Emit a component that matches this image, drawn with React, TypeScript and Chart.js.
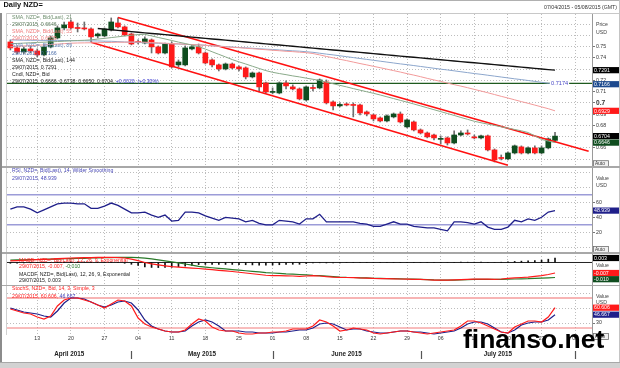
import React, { useEffect, useRef } from 'react';
import { Chart, registerables } from 'chart.js';

Chart.register(...registerables);

const FONT = '"Liberation Sans", Arial, Helvetica, sans-serif';
Chart.defaults.font.family = FONT;
Chart.defaults.color = '#333';

// ---------- categories ----------
const APRIL_DAYS = [7, 8, 9, 10, 13, 14, 15, 16, 17, 20, 21, 22, 23, 24, 27, 28, 29, 30];
const MAY_DAYS = [1, 4, 5, 6, 7, 8, 11, 12, 13, 14, 15, 18, 19, 20, 21, 22, 25, 26, 27, 28, 29];
const JUNE_DAYS = [1, 2, 3, 4, 5, 8, 9, 10, 11, 12, 15, 16, 17, 18, 19, 22, 23, 24, 25, 26, 29, 30];
const JULY_DAYS = [1, 2, 3, 6, 7, 8, 9, 10, 13, 14, 15, 16, 17, 20, 21, 22, 23, 24, 27, 28, 29, 30, 31];
const AUGUST_DAYS = [3, 4, 5];
const MONTH_DAYS = [APRIL_DAYS, MAY_DAYS, JUNE_DAYS, JULY_DAYS, AUGUST_DAYS];
const MONTH_NUMBERS = ['04', '05', '06', '07', '08'];
const MONTH_NAMES = ['April 2015', 'May 2015', 'June 2015', 'July 2015', ''];
const pad2 = (n: number) => String(n).padStart(2, '0');
const LABELS: string[] = MONTH_DAYS.flatMap((days, m) => days.map((d) => `${pad2(d)}/${MONTH_NUMBERS[m]}/2015`));
const TICK_DATES = [
  '13/04/2015', '20/04/2015', '27/04/2015', '04/05/2015', '11/05/2015', '18/05/2015', '25/05/2015',
  '01/06/2015', '08/06/2015', '15/06/2015', '22/06/2015', '29/06/2015', '06/07/2015', '13/07/2015',
  '20/07/2015', '27/07/2015', '03/08/2015',
];

// ---------- price (candles) ----------
const OPEN = [
  0.7542, 0.7489, 0.7453, 0.7480, 0.7462, 0.7427, 0.7498, 0.7578, 0.7667, 0.7720,
  0.7667, 0.7667, 0.7658, 0.7596, 0.7596, 0.7649, 0.7711, 0.7676, 0.7613, 0.7542,
  0.7533, 0.7560, 0.7498, 0.7444, 0.7524, 0.7338, 0.7338, 0.7480, 0.7498, 0.7444,
  0.7382, 0.7338, 0.7302, 0.7346, 0.7320, 0.7311, 0.7231, 0.7266, 0.7177, 0.7093,
  0.7088, 0.7177, 0.7142, 0.7124, 0.7026, 0.7133, 0.7133, 0.7186, 0.7008, 0.6973,
  0.6990, 0.6981, 0.6981, 0.6919, 0.6893, 0.6866, 0.6839, 0.6875, 0.6901, 0.6786,
  0.6830, 0.6759, 0.6732, 0.6714, 0.6675, 0.6688, 0.6643, 0.6714, 0.6732, 0.6697,
  0.6688, 0.6706, 0.6581, 0.6510, 0.6501, 0.6554, 0.6608, 0.6554, 0.6599, 0.6554,
  0.6599, 0.6666,
];
const CLOSE = [
  0.7489, 0.7453, 0.7480, 0.7462, 0.7427, 0.7498, 0.7578, 0.7667, 0.7694, 0.7667,
  0.7662, 0.7658, 0.7587, 0.7613, 0.7658, 0.7720, 0.7676, 0.7604, 0.7524, 0.7538,
  0.7569, 0.7498, 0.7444, 0.7524, 0.7320, 0.7364, 0.7489, 0.7498, 0.7444, 0.7355,
  0.7338, 0.7302, 0.7346, 0.7311, 0.7302, 0.7231, 0.7266, 0.7142, 0.7097, 0.7097,
  0.7177, 0.7151, 0.7124, 0.7035, 0.7142, 0.7128, 0.7204, 0.7000, 0.6973, 0.6986,
  0.6981, 0.6977, 0.6910, 0.6901, 0.6857, 0.6839, 0.6884, 0.6901, 0.6830, 0.6848,
  0.6759, 0.6732, 0.6697, 0.6688, 0.6679, 0.6643, 0.6714, 0.6732, 0.6723, 0.6688,
  0.6706, 0.6581, 0.6492, 0.6505, 0.6554, 0.6617, 0.6554, 0.6599, 0.6554, 0.6599,
  0.6679, 0.6704,
];
const HIGH = [
  0.7560, 0.7507, 0.7498, 0.7507, 0.7480, 0.7516, 0.7596, 0.7685, 0.7720, 0.7738,
  0.7711, 0.7720, 0.7667, 0.7622, 0.7667, 0.7756, 0.7756, 0.7685, 0.7622, 0.7560,
  0.7587, 0.7569, 0.7507, 0.7533, 0.7542, 0.7382, 0.7507, 0.7516, 0.7524, 0.7453,
  0.7391, 0.7346, 0.7355, 0.7355, 0.7329, 0.7320, 0.7275, 0.7275, 0.7186, 0.7133,
  0.7186, 0.7195, 0.7160, 0.7133, 0.7151, 0.7160, 0.7213, 0.7204, 0.7017, 0.7000,
  0.7000, 0.7000, 0.6990, 0.6928, 0.6901, 0.6875, 0.6893, 0.6910, 0.6919, 0.6857,
  0.6839, 0.6768, 0.6741, 0.6723, 0.6706, 0.6697, 0.6750, 0.6750, 0.6759, 0.6714,
  0.6714, 0.6714, 0.6590, 0.6536, 0.6563, 0.6625, 0.6617, 0.6608, 0.6617, 0.6617,
  0.6688, 0.6738,
];
const LOW = [
  0.7471, 0.7435, 0.7435, 0.7444, 0.7409, 0.7418, 0.7489, 0.7569, 0.7649, 0.7658,
  0.7631, 0.7649, 0.7542, 0.7578, 0.7587, 0.7640, 0.7667, 0.7596, 0.7516, 0.7524,
  0.7524, 0.7444, 0.7435, 0.7435, 0.7311, 0.7320, 0.7329, 0.7471, 0.7435, 0.7346,
  0.7320, 0.7284, 0.7293, 0.7302, 0.7284, 0.7213, 0.7222, 0.7097, 0.7088, 0.7080,
  0.7080, 0.7124, 0.7115, 0.7026, 0.7017, 0.7106, 0.7124, 0.6990, 0.6937, 0.6964,
  0.6973, 0.6875, 0.6893, 0.6884, 0.6839, 0.6830, 0.6830, 0.6866, 0.6821, 0.6777,
  0.6750, 0.6723, 0.6688, 0.6670, 0.6634, 0.6625, 0.6634, 0.6706, 0.6714, 0.6679,
  0.6679, 0.6572, 0.6474, 0.6492, 0.6492, 0.6545, 0.6545, 0.6545, 0.6545, 0.6545,
  0.6590, 0.6650,
];

// ---------- moving averages ----------
const SMA21 = [
  0.7526, 0.7529, 0.7532, 0.7535, 0.7538, 0.7540, 0.7543, 0.7546, 0.7549, 0.7552,
  0.7555, 0.7557, 0.7561, 0.7568, 0.7574, 0.7581, 0.7588, 0.7595, 0.7602, 0.7608,
  0.7610, 0.7596, 0.7582, 0.7569, 0.7555, 0.7541, 0.7528, 0.7514, 0.7500, 0.7479,
  0.7455, 0.7432, 0.7409, 0.7385, 0.7365, 0.7346, 0.7326, 0.7306, 0.7287, 0.7272,
  0.7261, 0.7251, 0.7240, 0.7231, 0.7220, 0.7210, 0.7199, 0.7184, 0.7170, 0.7156,
  0.7142, 0.7127, 0.7113, 0.7099, 0.7085, 0.7070, 0.7054, 0.7038, 0.7022, 0.7006,
  0.6990, 0.6973, 0.6956, 0.6939, 0.6922, 0.6905, 0.6888, 0.6870, 0.6853, 0.6836,
  0.6823, 0.6811, 0.6799, 0.6787, 0.6775, 0.6763, 0.6751, 0.6736, 0.6706, 0.6674,
  0.6660, 0.6646,
];
const SMA55 = [
  0.7499, 0.7503, 0.7507, 0.7509, 0.7513, 0.7516, 0.7520, 0.7523, 0.7527, 0.7531,
  0.7533, 0.7534, 0.7535, 0.7536, 0.7537, 0.7538, 0.7540, 0.7540, 0.7541, 0.7542,
  0.7540, 0.7537, 0.7534, 0.7531, 0.7528, 0.7525, 0.7522, 0.7519, 0.7516, 0.7512,
  0.7507, 0.7503, 0.7499, 0.7494, 0.7491, 0.7486, 0.7482, 0.7477, 0.7473, 0.7468,
  0.7464, 0.7459, 0.7456, 0.7451, 0.7447, 0.7439, 0.7427, 0.7413, 0.7401, 0.7388,
  0.7376, 0.7363, 0.7350, 0.7338, 0.7325, 0.7313, 0.7300, 0.7287, 0.7274, 0.7260,
  0.7247, 0.7233, 0.7218, 0.7204, 0.7191, 0.7176, 0.7162, 0.7149, 0.7135, 0.7120,
  0.7105, 0.7090, 0.7074, 0.7058, 0.7043, 0.7027, 0.7011, 0.6996, 0.6980, 0.6964,
  0.6948, 0.6929,
];
const SMA89 = [
  0.7560, 0.7559, 0.7558, 0.7557, 0.7557, 0.7556, 0.7556, 0.7556, 0.7555, 0.7554,
  0.7553, 0.7553, 0.7552, 0.7551, 0.7549, 0.7548, 0.7545, 0.7542, 0.7540, 0.7538,
  0.7535, 0.7532, 0.7531, 0.7528, 0.7525, 0.7524, 0.7521, 0.7518, 0.7516, 0.7513,
  0.7508, 0.7505, 0.7501, 0.7497, 0.7493, 0.7490, 0.7486, 0.7482, 0.7478, 0.7475,
  0.7471, 0.7467, 0.7463, 0.7460, 0.7455, 0.7450, 0.7442, 0.7434, 0.7427, 0.7419,
  0.7411, 0.7403, 0.7395, 0.7387, 0.7379, 0.7371, 0.7363, 0.7355, 0.7347, 0.7340,
  0.7332, 0.7324, 0.7316, 0.7308, 0.7300, 0.7293, 0.7285, 0.7277, 0.7269, 0.7261,
  0.7254, 0.7246, 0.7238, 0.7230, 0.7222, 0.7214, 0.7207, 0.7199, 0.7191, 0.7183,
  0.7175, 0.7166,
];
const SMA144 = [
  null, null, null, null, null, null, null, null, null, null,
  null, null, null, 0.7662, 0.7656, 0.7651, 0.7645, 0.7640, 0.7634, 0.7629,
  0.7623, 0.7618, 0.7613, 0.7607, 0.7602, 0.7596, 0.7591, 0.7585, 0.7580, 0.7574,
  0.7569, 0.7564, 0.7558, 0.7553, 0.7547, 0.7542, 0.7536, 0.7531, 0.7525, 0.7520,
  0.7515, 0.7509, 0.7504, 0.7498, 0.7493, 0.7487, 0.7482, 0.7476, 0.7471, 0.7466,
  0.7460, 0.7455, 0.7449, 0.7444, 0.7438, 0.7433, 0.7427, 0.7422, 0.7416, 0.7411,
  0.7406, 0.7400, 0.7395, 0.7389, 0.7384, 0.7378, 0.7373, 0.7367, 0.7362, 0.7357,
  0.7351, 0.7346, 0.7340, 0.7335, 0.7329, 0.7324, 0.7318, 0.7313, 0.7307, 0.7302,
  0.7296, 0.7291,
];
const CHANNEL_UPPER = [{ x: '29/04/2015', y: 0.776 }, { x: '05/08/2015', y: 0.6569 }];
const CHANNEL_LOWER = [{ x: '23/04/2015', y: 0.754 }, { x: '20/07/2015', y: 0.6445 }];
const SUPPORT_LEVEL = 0.7174;
const PRICE_TICKS = [0.65, 0.66, 0.67, 0.68, 0.69, 0.7, 0.71, 0.72, 0.73, 0.74, 0.75, 0.76, 0.77];
const PRICE_LABELED = [0.66, 0.67, 0.68, 0.69, 0.7, 0.71, 0.72, 0.73, 0.74, 0.75];

// ---------- RSI ----------
const RSI = [
  51, 54, 54, 51, 46, 50, 54, 58, 59, 59,
  58, 58, 52, 52, 55, 59, 56, 51, 46, 46,
  47, 43, 40, 43, 35, 36, 47, 47, 46, 42,
  39, 36, 40, 39, 38, 34, 36, 32, 30, 30,
  36, 35, 34, 31, 38, 38, 44, 34, 34, 34,
  34, 34, 32, 31, 28, 28, 31, 34, 31, 31,
  28, 27, 26, 26, 24, 22, 34, 34, 33, 31,
  34, 27, 24, 24, 27, 36, 34, 38, 36, 40,
  47, 48.939,
];
const RSI_LEVELS = [70, 30];
const RSI_TICKS = [0, 20, 40, 60, 80, 100];
const RSI_LABELED = [20, 40, 60];

// ---------- MACD ----------
const MACD = [
  0.0011, 0.0013, 0.0015, 0.0017, 0.0019, 0.0021, 0.0023, 0.0026, 0.0028, 0.0030,
  0.0031, 0.0032, 0.0033, 0.0034, 0.0034, 0.0035, 0.0033, 0.0030, 0.0022, 0.0012,
  0.0000, -0.0009, -0.0016, -0.0022, -0.0028, -0.0031, -0.0034, -0.0037, -0.0040, -0.0044,
  -0.0048, -0.0052, -0.0056, -0.0060, -0.0065, -0.0070, -0.0075, -0.0080, -0.0085, -0.0087,
  -0.0088, -0.0089, -0.0090, -0.0092, -0.0090, -0.0088, -0.0090, -0.0094, -0.0097, -0.0099,
  -0.0100, -0.0101, -0.0103, -0.0104, -0.0106, -0.0107, -0.0108, -0.0109, -0.0110, -0.0111,
  -0.0112, -0.0113, -0.0115, -0.0117, -0.0118, -0.0118, -0.0116, -0.0114, -0.0112, -0.0111,
  -0.0110, -0.0111, -0.0112, -0.0110, -0.0106, -0.0103, -0.0100, -0.0097, -0.0093, -0.0088,
  -0.0080, -0.0070,
];
const MACD_SIGNAL = [
  0.0016, 0.0017, 0.0018, 0.0019, 0.0020, 0.0021, 0.0022, 0.0023, 0.0025, 0.0026,
  0.0027, 0.0028, 0.0030, 0.0031, 0.0032, 0.0033, 0.0034, 0.0035, 0.0034, 0.0032,
  0.0029, 0.0024, 0.0018, 0.0011, 0.0004, -0.0003, -0.0010, -0.0018, -0.0026, -0.0031,
  -0.0035, -0.0039, -0.0043, -0.0047, -0.0051, -0.0055, -0.0059, -0.0063, -0.0067, -0.0070,
  -0.0073, -0.0076, -0.0078, -0.0080, -0.0083, -0.0086, -0.0088, -0.0091, -0.0094, -0.0097,
  -0.0099, -0.0100, -0.0102, -0.0103, -0.0105, -0.0106, -0.0107, -0.0108, -0.0109, -0.0110,
  -0.0111, -0.0112, -0.0114, -0.0116, -0.0117, -0.0118, -0.0117, -0.0116, -0.0114, -0.0113,
  -0.0112, -0.0112, -0.0112, -0.0112, -0.0111, -0.0110, -0.0109, -0.0108, -0.0106, -0.0104,
  -0.0102, -0.0100,
];
const MACD_HIST = [
  -0.0005, -0.0004, -0.0003, -0.0002, -0.0001, 0.0, 0.0001, 0.0003, 0.0003, 0.0004,
  0.0004, 0.0004, 0.0003, 0.0003, 0.0002, 0.0002, -0.0001, -0.0005, -0.0012, -0.0020,
  -0.0029, -0.0033, -0.0034, -0.0033, -0.0032, -0.0028, -0.0024, -0.0019, -0.0014, -0.0013,
  -0.0013, -0.0013, -0.0013, -0.0013, -0.0014, -0.0015, -0.0016, -0.0017, -0.0018, -0.0017,
  -0.0015, -0.0013, -0.0012, -0.0012, -0.0007, -0.0002, -0.0002, -0.0003, -0.0003, -0.0002,
  -0.0001, -0.0001, -0.0001, -0.0001, -0.0001, -0.0001, -0.0001, -0.0001, -0.0001, -0.0001,
  -0.0001, -0.0001, -0.0001, -0.0001, -0.0001, 0.0, 0.0001, 0.0002, 0.0002, 0.0002,
  0.0002, 0.0001, 0.0, 0.0002, 0.0005, 0.0007, 0.0009, 0.0011, 0.0013, 0.0016,
  0.0022, 0.0030,
];

// ---------- Stochastic ----------
const STOCH_K = [
  58, 54, 50, 48, 42, 38, 44, 64, 76, 80,
  80, 76, 72, 66, 60, 68, 76, 74, 64, 40,
  28, 22, 18, 14, 12, 12, 16, 28, 38, 34,
  22, 16, 14, 14, 10, 8, 8, 10, 10, 12,
  12, 14, 18, 18, 18, 24, 36, 32, 24, 14,
  16, 20, 18, 16, 10, 8, 10, 12, 14, 14,
  12, 10, 8, 10, 12, 14, 16, 24, 34, 34,
  30, 24, 18, 12, 10, 22, 28, 34, 34, 32,
  42, 60.606,
];
const STOCH_D = [
  60, 56, 52, 50, 48, 44, 42, 54, 70, 80,
  80, 78, 72, 66, 62, 66, 72, 74, 70, 56,
  36, 24, 18, 14, 12, 12, 14, 24, 32, 36,
  32, 24, 14, 14, 14, 12, 12, 10, 10, 10,
  12, 12, 14, 16, 16, 20, 28, 30, 28, 22,
  16, 18, 18, 14, 12, 10, 10, 12, 14, 14,
  12, 12, 10, 8, 10, 12, 14, 20, 28, 32,
  32, 28, 20, 12, 10, 16, 26, 30, 32, 32,
  36, 46.667,
];
const STOCH_LEVELS = [80, 20];
const STOCH_TICKS = [30, 60, 90];
const STOCH_LABELED = [30];

// ---------- styles ----------
const GRID = '#bdbdbd';
const RED = '#ff1a1a';
const CANDLE_UP = '#0f4d1f';
const WICK = '#6e6e6e';
const NAVY = '#1f1f8a';
const AXIS_W = 28;

type Part = [string, string];

function drawParts(ctx: CanvasRenderingContext2D, x: number, y: number, parts: Part[], size = 5.2, weight = 'normal', align: CanvasTextAlign = 'left') {
  ctx.save();
  ctx.font = `${weight} ${size}px ${FONT}`;
  ctx.textBaseline = 'middle';
  ctx.textAlign = 'left';
  let total = 0;
  for (const [t] of parts) total += ctx.measureText(t).width;
  let cx = align === 'right' ? x - total : align === 'center' ? x - total / 2 : x;
  for (const [t, c] of parts) {
    ctx.fillStyle = c;
    ctx.fillText(t, cx, y);
    cx += ctx.measureText(t).width;
  }
  ctx.restore();
}

type Box = { value: number; text: string; bg: string; fg?: string };
function drawBoxes(ctx: CanvasRenderingContext2D, scale: any, boxes: Box[]) {
  const H = 6.2;
  const items = boxes.map((b) => ({ ...b, y: scale.getPixelForValue(b.value) })).sort((a, b) => a.y - b.y);
  for (let i = 1; i < items.length; i++) if (items[i].y - items[i - 1].y < H) items[i].y = items[i - 1].y + H;
  for (const it of items) {
    ctx.save();
    ctx.fillStyle = it.bg;
    ctx.fillRect(593, it.y - H / 2, 26, H);
    ctx.restore();
    drawParts(ctx, 594, it.y + 0.3, [[it.text, it.fg || '#ffffff']], 5.2);
  }
}

function drawAuto(ctx: CanvasRenderingContext2D, y: number) {
  ctx.save();
  ctx.fillStyle = '#f0f0f0';
  ctx.fillRect(593.5, y - 3, 15, 6);
  ctx.strokeStyle = '#707070';
  ctx.lineWidth = 0.8;
  ctx.strokeRect(593.5, y - 3, 15, 6);
  ctx.restore();
  drawParts(ctx, 595, y + 0.2, [['Auto', '#333']], 4.8);
}

function hLine(chart: any, value: number, color: string, width: number) {
  const ctx = chart.ctx as CanvasRenderingContext2D;
  const y = chart.scales.y.getPixelForValue(value);
  const { left, right } = chart.chartArea;
  ctx.save();
  ctx.strokeStyle = color;
  ctx.lineWidth = width;
  ctx.beginPath();
  ctx.moveTo(left, y);
  ctx.lineTo(right, y);
  ctx.stroke();
  ctx.restore();
}

function xScale(axisHeight: number, showLabels: boolean) {
  return {
    type: 'category',
    offset: true,
    afterBuildTicks: (s: any) => {
      s.ticks = s.ticks.filter((t: any) => TICK_DATES.includes(LABELS[t.value]));
    },
    afterFit: (s: any) => {
      s.height = axisHeight;
      s.paddingLeft = 0;
      s.paddingRight = 0;
    },
    grid: { offset: false, color: GRID, lineWidth: 1, drawTicks: false },
    border: { display: false, dash: [1, 2] },
    ticks: {
      display: showLabels,
      autoSkip: false,
      maxRotation: 0,
      padding: 0.5,
      color: '#333',
      font: { size: 5.2 },
      callback: (v: any) => LABELS[v].slice(0, 2),
    },
  };
}

function yScale(min: number, max: number, tickValues: number[] | null, labeled: number[], fmt: (v: number) => string, font?: any) {
  const shown = (v: number) => labeled.some((l) => Math.abs(l - v) < 1e-9);
  return {
    position: 'right',
    min,
    max,
    afterBuildTicks: (s: any) => {
      if (tickValues) s.ticks = tickValues.map((v) => ({ value: v }));
    },
    afterFit: (s: any) => {
      s.width = AXIS_W;
      s.paddingTop = 0;
      s.paddingBottom = 0;
    },
    grid: {
      display: !!tickValues,
      color: GRID,
      lineWidth: 1,
      drawTicks: true,
      tickLength: 3,
      tickWidth: 1,
      tickBorderDash: [],
      tickColor: (c: any) => (c.tick && shown(c.tick.value) ? '#777' : 'rgba(0,0,0,0)'),
    },
    border: { display: true, color: '#9a9a9a', width: 1, dash: [1, 2] },
    ticks: {
      display: !!tickValues,
      padding: 1,
      color: '#333',
      font: font || { size: 5.2 },
      callback: (v: any) => (shown(v) ? fmt(v) : ''),
    },
  };
}

const baseOptions = (padTop: number) => ({
  animation: false,
  responsive: false,
  events: [],
  layout: { padding: { left: 7, top: padTop, right: 0, bottom: 0 } },
  plugins: { legend: { display: false }, tooltip: { enabled: false } },
});

// ---------- PRICE PANEL ----------
const PRICE_TOP = 0;
const makePrice = () => ({
  type: 'bar',
  data: {
    labels: LABELS,
    datasets: [
      { type: 'line', data: SMA21, borderColor: '#8aaa8a', borderWidth: 1, pointRadius: 0, order: 0 },
      { type: 'line', data: SMA55, borderColor: '#f29a9a', borderWidth: 1, pointRadius: 0, order: 0 },
      { type: 'line', data: SMA89, borderColor: '#8ca6cc', borderWidth: 1, pointRadius: 0, order: 0 },
      { type: 'line', data: SMA144, borderColor: '#111111', borderWidth: 1.4, pointRadius: 0, order: 0 },
      { type: 'line', data: CHANNEL_UPPER, borderColor: '#ff1010', borderWidth: 1.6, pointRadius: 0, order: 0 },
      { type: 'line', data: CHANNEL_LOWER, borderColor: '#ff1010', borderWidth: 1.6, pointRadius: 0, order: 0 },
      {
        type: 'bar',
        data: OPEN.map((o, i) => [o, CLOSE[i]]),
        backgroundColor: OPEN.map((o, i) => (CLOSE[i] >= o ? CANDLE_UP : RED)),
        barThickness: 5,
        grouped: false,
        minBarLength: 1,
        order: 1,
      },
      {
        type: 'bar',
        data: LOW.map((l, i) => [l, HIGH[i]]),
        backgroundColor: WICK,
        barThickness: 1,
        grouped: false,
        order: 2,
      },
    ],
  },
  options: {
    ...baseOptions(14),
    scales: {
      x: xScale(0, false),
      y: yScale(0.6429, 0.7791, PRICE_TICKS, PRICE_LABELED, (v) => String(Number(v.toFixed(2))), (c: any) =>
        c.tick && Math.abs(c.tick.value - 0.7) < 1e-9 ? { size: 6.6, weight: 'bold' } : { size: 5.2 }
      ),
    },
  },
  plugins: [
    {
      id: 'priceOverlay',
      beforeDatasetsDraw(chart: any) {
        hLine(chart, SUPPORT_LEVEL, '#1e5a1e', 1.2);
      },
      afterDatasetsDraw(chart: any) {
        const ctx = chart.ctx as CanvasRenderingContext2D;
        const y = chart.scales.y.getPixelForValue(SUPPORT_LEVEL);
        const x = chart.scales.x.getPixelForValue(LABELS.length - 6) - 4;
        ctx.save();
        ctx.font = `5.6px ${FONT}`;
        const w = ctx.measureText('0.7174').width;
        ctx.fillStyle = '#ffffff';
        ctx.fillRect(x - 1, y - 3.2, w + 2, 6.4);
        ctx.restore();
        drawParts(ctx, x, y, [[String(SUPPORT_LEVEL), '#4646c4']], 5.6);
      },
      afterDraw(chart: any) {
        const ctx = chart.ctx as CanvasRenderingContext2D;
        drawBoxes(ctx, chart.scales.y, [
          { value: 0.7291, text: '0.7291', bg: '#000000' },
          { value: 0.7166, text: '0.7166', bg: '#1d4a8e' },
          { value: 0.6929, text: '0.6929', bg: '#ff1a1a' },
          { value: 0.6704, text: '0.6704', bg: '#000000' },
          { value: 0.6646, text: '0.6646', bg: '#0f4d1f' },
        ]);
        ctx.save();
        ctx.translate(0, -PRICE_TOP);
        drawParts(ctx, 3.5, 5, [['Daily NZD=', '#111']], 7.4, 'bold');
        drawParts(ctx, 617, 7.5, [['07/04/2015 - 05/08/2015 (GMT)', '#333']], 5.2, 'normal', 'right');
        const lx = 12;
        drawParts(ctx, lx, 17.5, [['SMA, NZD=, Bid(Last), 21', '#6f8f6f']]);
        drawParts(ctx, lx, 25, [['29/07/2015, 0.6646', '#5b7b5b']]);
        drawParts(ctx, lx, 32, [['SMA, NZD=, Bid(Last), 55', '#f07a7a']]);
        drawParts(ctx, lx, 39, [['29/07/2015, 0.6929', '#f07a7a']]);
        drawParts(ctx, lx, 46, [['SMA, NZD=, Bid(Last), 89', '#6e8fc0']]);
        drawParts(ctx, lx, 53.5, [['29/07/2015, 0.7166', '#4f70aa']]);
        drawParts(ctx, lx, 61, [['SMA, NZD=, Bid(Last), 144', '#222']]);
        drawParts(ctx, lx, 68, [['29/07/2015, 0.7291', '#222']]);
        drawParts(ctx, lx, 75, [['Cndl, NZD=, Bid', '#222']]);
        drawParts(ctx, lx, 82, [['29/07/2015, 0.6666, 0.6738, 0.6650, 0.6704, ', '#222'], ['+0.0020, (+0.30%)', '#3b3bd0']]);
        drawParts(ctx, 596, 25, [['Price', '#444']]);
        drawParts(ctx, 596, 32.5, [['USD', '#444']]);
        drawAuto(ctx, 163.7);
        ctx.restore();
      },
    },
  ],
});

// ---------- RSI PANEL ----------
const RSI_TOP = 167;
const makeRsi = () => ({
  type: 'line',
  data: {
    labels: LABELS,
    datasets: [{ data: RSI, borderColor: NAVY, borderWidth: 1.3, pointRadius: 0 }],
  },
  options: {
    ...baseOptions(0),
    scales: {
      x: xScale(0, false),
      y: yScale(-7.6, 107.1, RSI_TICKS, RSI_LABELED, (v) => String(v)),
    },
  },
  plugins: [
    {
      id: 'rsiOverlay',
      beforeDatasetsDraw(chart: any) {
        RSI_LEVELS.forEach((lv) => hLine(chart, lv, '#9c9cd8', 1.6));
      },
      afterDraw(chart: any) {
        const ctx = chart.ctx as CanvasRenderingContext2D;
        drawBoxes(ctx, chart.scales.y, [{ value: RSI[RSI.length - 1], text: '48.939', bg: NAVY }]);
        ctx.save();
        ctx.translate(0, -RSI_TOP);
        drawParts(ctx, 12, 171, [['RSI, NZD=, Bid(Last), 14, Wilder Smoothing', '#4a4ab8']]);
        drawParts(ctx, 12, 178.5, [['29/07/2015, 48.939', '#4a4ab8']]);
        drawParts(ctx, 596, 179, [['Value', '#444']]);
        drawParts(ctx, 596, 186, [['USD', '#444']]);
        drawAuto(ctx, 249.5);
        ctx.restore();
      },
    },
  ],
});

// ---------- MACD PANEL ----------
const MACD_TOP = 253;
const makeMacd = () => ({
  type: 'bar',
  data: {
    labels: LABELS,
    datasets: [
      { type: 'line', data: MACD, borderColor: '#ff1a1a', borderWidth: 1.2, pointRadius: 0, order: 0 },
      { type: 'line', data: MACD_SIGNAL, borderColor: '#2a7a2a', borderWidth: 1.2, pointRadius: 0, order: 0 },
      { type: 'bar', data: MACD_HIST, backgroundColor: '#111', barThickness: 1, grouped: false, order: 1 },
    ],
  },
  options: {
    ...baseOptions(0),
    scales: {
      x: xScale(0, false),
      y: yScale(-0.015, 0.00633, null, [], (v) => String(v)),
    },
  },
  plugins: [
    {
      id: 'macdOverlay',
      beforeDatasetsDraw(chart: any) {
        hLine(chart, 0, '#222', 1);
      },
      afterDraw(chart: any) {
        const ctx = chart.ctx as CanvasRenderingContext2D;
        drawBoxes(ctx, chart.scales.y, [
          { value: 0.003, text: '0.003', bg: '#000000' },
          { value: -0.007, text: '-0.007', bg: '#ff1a1a' },
          { value: -0.01, text: '-0.010', bg: '#0f4d1f' },
        ]);
        ctx.save();
        ctx.translate(0, -MACD_TOP);
        drawParts(ctx, 19, 260.5, [['MACD, NZD=, Bid(Last), 12, 26, 9, Exponential', '#ff2020']]);
        drawParts(ctx, 19, 267, [['29/07/2015, -0.007, ', '#ff2020'], ['-0.010', '#2a7a2a']]);
        drawParts(ctx, 19, 274.5, [['MACDF, NZD=, Bid(Last), 12, 26, 9, Exponential', '#222']]);
        drawParts(ctx, 19, 281, [['29/07/2015, 0.003', '#222']]);
        drawParts(ctx, 596, 265.5, [['Value', '#444']]);
        ctx.restore();
      },
    },
  ],
});

// ---------- STOCHASTIC PANEL ----------
const STOCH_TOP = 285;
const STOCH_H = 83;
const makeStoch = () => ({
  type: 'line',
  data: {
    labels: LABELS,
    datasets: [
      { data: STOCH_K, borderColor: '#ff1a1a', borderWidth: 1.2, pointRadius: 0 },
      { data: STOCH_D, borderColor: NAVY, borderWidth: 1.2, pointRadius: 0 },
    ],
  },
  options: {
    ...baseOptions(0),
    scales: {
      x: xScale(STOCH_H - 50, true),
      y: yScale(6, 106, STOCH_TICKS, STOCH_LABELED, (v) => String(v)),
    },
  },
  plugins: [
    {
      id: 'stochOverlay',
      beforeDatasetsDraw(chart: any) {
        hLine(chart, STOCH_LEVELS[0], '#f7b4b4', 2);
        hLine(chart, STOCH_LEVELS[1], '#f27a7a', 1);
      },
      afterDraw(chart: any) {
        const ctx = chart.ctx as CanvasRenderingContext2D;
        drawBoxes(ctx, chart.scales.y, [
          { value: 60.606, text: '60.606', bg: '#ff1a1a' },
          { value: 46.667, text: '46.667', bg: NAVY },
        ]);
        const xs = chart.scales.x;
        const { left } = chart.chartArea;
        let idx = 0;
        const starts: number[] = [];
        MONTH_DAYS.forEach((days) => {
          starts.push(idx);
          idx += days.length;
        });
        ctx.save();
        ctx.translate(0, -STOCH_TOP);
        MONTH_NAMES.forEach((name, m) => {
          const x0 = m === 0 ? left : xs.getPixelForValue(starts[m]);
          if (m > 0) {
            ctx.save();
            ctx.strokeStyle = '#555';
            ctx.lineWidth = 1.2;
            ctx.beginPath();
            ctx.moveTo(Math.round(x0) + 0.5, 351);
            ctx.lineTo(Math.round(x0) + 0.5, 359);
            ctx.stroke();
            ctx.restore();
          }
          if (name && m + 1 < starts.length) {
            const x1 = xs.getPixelForValue(starts[m + 1]);
            drawParts(ctx, (x0 + x1) / 2, 354, [[name, '#222']], 6.3, 'bold', 'center');
          }
        });
        drawParts(ctx, 12, 289, [['StochS, NZD=, Bid, 14, 3, Simple, 3', '#ff2020']]);
        drawParts(ctx, 12, 296.5, [['29/07/2015, 60.606, ', '#ff2020'], ['46.667', '#3a3ab8']]);
        drawParts(ctx, 596, 297, [['Value', '#444']]);
        drawParts(ctx, 596, 302.5, [['USD', '#444']]);
        drawAuto(ctx, 336.5);
        drawParts(ctx, 463, 340.5, [['finanso.net', '#000']], 26.5, 'bold');
        ctx.restore();
      },
    },
  ],
});

function ChartCanvas({ top, height, make }: { top: number; height: number; make: () => any }) {
  const ref = useRef<HTMLCanvasElement | null>(null);
  useEffect(() => {
    if (!ref.current) return;
    const chart = new Chart(ref.current, make() as any);
    return () => chart.destroy();
  }, [make]);
  return (
    <canvas
      ref={ref}
      width={620}
      height={height}
      style={{ position: 'absolute', left: 0, top, width: 620, height, display: 'block' }}
    />
  );
}

const line = (style: React.CSSProperties) => (
  <div style={{ position: 'absolute', pointerEvents: 'none', ...style }} />
);

export default function App() {
  return (
    <div style={{ position: 'fixed', left: 0, top: 0, width: 620, height: 368, background: '#fff', overflow: 'hidden' }}>
      <ChartCanvas top={PRICE_TOP} height={167} make={makePrice} />
      <ChartCanvas top={RSI_TOP} height={86} make={makeRsi} />
      <ChartCanvas top={MACD_TOP} height={32} make={makeMacd} />
      <ChartCanvas top={STOCH_TOP} height={STOCH_H} make={makeStoch} />
      {line({ left: 0, top: 0, width: 620, height: 1, background: '#b0b0b0' })}
      {line({ left: 6, top: 13, width: 614, height: 1, background: '#c8c8c8' })}
      {line({ left: 6, top: 13, width: 1, height: 322, background: '#d0d0d0' })}
      {line({ left: 0, top: 13, width: 2, height: 349, background: '#8c8c8c' })}
      {line({ left: 619, top: 0, width: 1, height: 368, background: '#c4c4c4' })}
      {line({ left: 2, top: 166, width: 618, height: 1.5, background: '#a8a8a8' })}
      {line({ left: 2, top: 252, width: 618, height: 1.5, background: '#a8a8a8' })}
      {line({ left: 2, top: 284.5, width: 618, height: 1.5, background: '#a8a8a8' })}
      {line({ left: 0, top: 362, width: 620, height: 6, background: '#d2d2d2' })}
      {line({ left: 0, top: 361.5, width: 620, height: 1, background: '#a8a8a8' })}
    </div>
  );
}
